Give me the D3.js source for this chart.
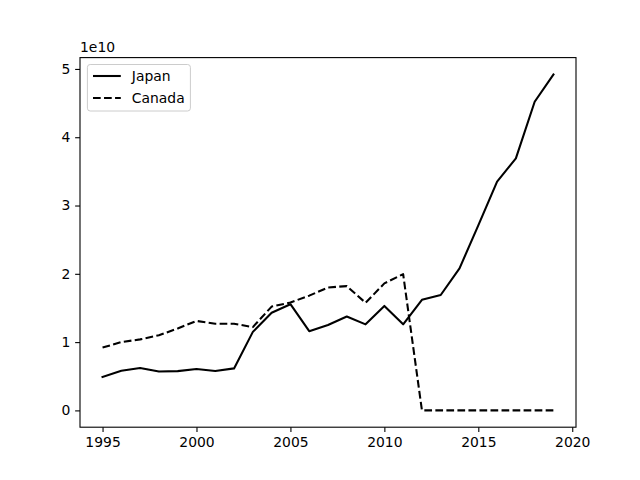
<!DOCTYPE html>
<html><head><meta charset="utf-8">
<script src="https://cdn.jsdelivr.net/npm/d3@7"></script>
<style>body{margin:0;background:#fff}svg{display:block}text{font-family:"DejaVu Sans",sans-serif;fill:#000}</style>
</head><body>
<svg id="c" width="640" height="480"></svg>
<script>
const years = d3.range(1995, 2020);
const japan = [0.49,0.58,0.62,0.57,0.575,0.605,0.578,0.615,1.15,1.43,1.555,1.16,1.25,1.375,1.26,1.53,1.26,1.62,1.69,2.08,2.71,3.35,3.69,4.52,4.92].map(v=>v*1e10);
const canada = [0.92,1.00,1.04,1.10,1.20,1.31,1.27,1.27,1.22,1.52,1.58,1.68,1.80,1.82,1.575,1.86,1.995,0,0,0,0,0,0,0,0].map(v=>v*1e10);
const xTicks = [1995,2000,2005,2010,2015,2020];
const yTicks = [0,1,2,3,4,5];
const seriesNames = ["Japan","Canada"];

const svg = d3.select("#c");
const L=80, R=576, T=57.6, B=427.2;
const xMin=1995, xMax=2019, xm=(xMax-xMin)*0.05;
const x = d3.scaleLinear().domain([xMin-xm, xMax+xm]).range([L,R]);
const allY = japan.concat(canada);
const yMinV=d3.min(allY), yMaxV=d3.max(allY), ym=(yMaxV-yMinV)*0.05;
const y = d3.scaleLinear().domain([yMinV-ym, yMaxV+ym]).range([B,T]);

const fs = "13.9px";
const xAxis = d3.axisBottom(x).tickValues(xTicks).tickFormat(d3.format("d")).tickSize(4.86).tickPadding(4.86);
const gx = svg.append("g").attr("transform",`translate(0,${B})`).call(xAxis);
const yAxis = d3.axisLeft(y).tickValues(yTicks.map(v=>v*1e10)).tickFormat(d=>String(Math.round(d/1e10))).tickSize(4.86).tickPadding(4.86);
const gy = svg.append("g").attr("transform",`translate(${L},0)`).call(yAxis);
[gx,gy].forEach(g=>{g.select(".domain").remove();g.selectAll("line").attr("stroke","#000").attr("stroke-width",1.1);g.selectAll("text").style("font-size",fs).style("font-family","DejaVu Sans").attr("fill","#000");});
gx.selectAll("text").attr("dy","0.75em");

svg.append("rect").attr("x",L).attr("y",T).attr("width",R-L).attr("height",B-T).attr("fill","none").attr("stroke","#000").attr("stroke-width",1.1);
svg.append("text").attr("x",L).attr("y",T-6).style("font-size",fs).text("1e10");

const line = d3.line().x((d,i)=>x(years[i])).y(d=>y(d));
const dashes = [null,"7.7,3.33"];
[japan,canada].forEach((s,k)=>{
  svg.append("path").attr("d",line(s)).attr("fill","none").attr("stroke","#000").attr("stroke-width",2.08)
    .attr("stroke-dasharray",dashes[k]).attr("stroke-linejoin","round").attr("stroke-linecap",k?"butt":"square");
});

// legend
const lg = svg.append("g");
lg.append("rect").attr("x",87.4).attr("y",64.5).attr("width",103).attr("height",46.5).attr("rx",2.8)
  .attr("fill","#fff").attr("fill-opacity",0.8).attr("stroke","#ccc").attr("stroke-width",1);
seriesNames.forEach((n,k)=>{
  const cy = 76 + k*22;
  lg.append("line").attr("x1",93).attr("x2",120.8).attr("y1",cy).attr("y2",cy).attr("stroke","#000").attr("stroke-width",2.08).attr("stroke-dasharray",dashes[k]);
  lg.append("text").attr("x",131.8).attr("y",cy).attr("dy","0.36em").style("font-size",fs).text(n);
});
</script>
</body></html>
